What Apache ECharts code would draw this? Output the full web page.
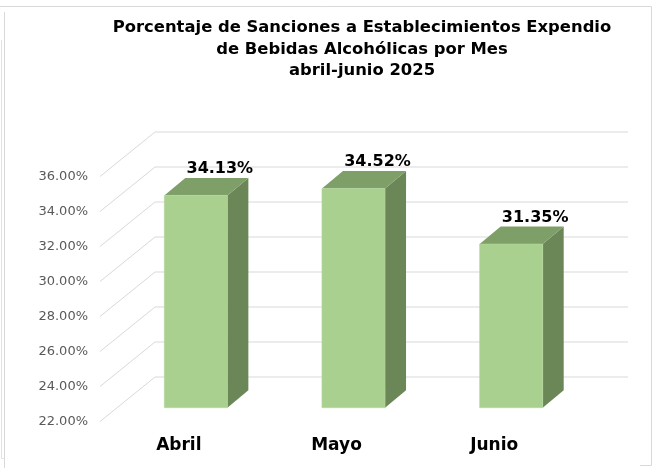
<!DOCTYPE html>
<html>
<head>
<meta charset="utf-8">
<script src="https://cdn.jsdelivr.net/npm/echarts@6/dist/echarts.min.js"></script>
<style>
  html, body { margin: 0; padding: 0; background: #fff; }
  #chart { width: 656px; height: 468px; }
</style>
</head>
<body>
<div id="chart"></div>
<script>
// data
var months = ['Abril', 'Mayo', 'Junio'];
var sanciones = [34.13, 34.52, 31.35];
var yTicks = [22, 24, 26, 28, 30, 32, 34, 36];

var chart = echarts.init(document.getElementById('chart'));

// 3d look: depth of the floor and of the bars
var floorDx = 55, floorDy = -44.5;
var barFx = 17, barFy = -13.8;   // bar front plane
var barDx = 21, barDy = -17.5;   // bar depth

var gridLineColor = '#d9d9d9';

function renderGrid(params, api) {
    var v = api.value(1);
    var y = api.coord([0, v])[1];
    var cs = params.coordSys;
    var x0 = cs.x;
    var x1 = cs.x + cs.width + floorDx;
    return {
        type: 'polyline',
        shape: { points: [[x0, y], [x0 + floorDx, y + floorDy], [x1, y + floorDy]] },
        style: { stroke: gridLineColor, lineWidth: 1, fill: null },
        silent: true
    };
}

function renderBar(params, api) {
    var i = api.value(0);
    var v = api.value(1);
    var base = api.coord([i, yTicks[0]]);
    var top = api.coord([i, v]);
    var w = api.size([1, 0])[0] * 0.4;
    var xl = base[0] - w / 2 + barFx;
    var xr = base[0] + w / 2 + barFx;
    var yb = base[1] + barFy;
    var yt = top[1] + barFy;
    return {
        type: 'group',
        children: [
            { // side
                type: 'polygon',
                shape: { points: [[xr, yt], [xr + barDx, yt + barDy], [xr + barDx, yb + barDy], [xr, yb]] },
                style: { fill: '#6b8758' }
            },
            { // top
                type: 'polygon',
                shape: { points: [[xl, yt], [xr, yt], [xr + barDx, yt + barDy], [xl + barDx, yt + barDy]] },
                style: { fill: '#7f9f69' }
            },
            { // front
                type: 'rect',
                shape: { x: xl, y: yt, width: xr - xl, height: yb - yt },
                style: { fill: '#a9d08e', stroke: '#b4d79c', lineWidth: 0.6 }
            },
            { // value label
                type: 'text',
                style: {
                    x: base[0] + barFx + 24,
                    y: yt + barDy - 9,
                    text: v.toFixed(2) + '%',
                    fill: '#000',
                    font: 'bold 16px "DejaVu Sans"',
                    align: 'center',
                    verticalAlign: 'middle'
                }
            }
        ]
    };
}

var option = {
    backgroundColor: '#fff',
    animation: false,
    graphic: [
        {
            type: 'text',
            x: 362,
            y: 17,
            style: {
                text: 'Porcentaje de Sanciones a Establecimientos Expendio\nde Bebidas Alcohólicas por Mes\nabril-junio 2025',
                fill: '#000',
                font: 'bold 16.4px "DejaVu Sans"',
                lineHeight: 21.5,
                align: 'center',
                verticalAlign: 'top'
            }
        },
        {
            type: 'polyline',
            shape: { points: [[0, 6.5], [651.5, 6.5], [651.5, 465.5], [640, 465.5]] },
            style: { stroke: '#d9d9d9', lineWidth: 1, fill: null }
        },
        {
            type: 'polyline',
            shape: { points: [[4.5, 12], [4.5, 468]] },
            style: { stroke: '#d9d9d9', lineWidth: 1, fill: null }
        },
        {
            type: 'polyline',
            shape: { points: [[1.5, 40], [1.5, 458.5], [4.5, 458.5]] },
            style: { stroke: '#e2e2e2', lineWidth: 1, fill: null }
        }
    ],
    grid: {
        left: 100,
        top: 176.5,
        width: 473,
        height: 245
    },
    xAxis: {
        type: 'category',
        data: months,
        axisLine: { show: false },
        axisTick: { show: false },
        axisLabel: {
            margin: 16,
            color: '#000',
            fontFamily: 'DejaVu Sans',
            fontWeight: 'bold',
            fontSize: 17
        }
    },
    yAxis: {
        type: 'value',
        min: yTicks[0],
        max: yTicks[yTicks.length - 1],
        interval: 2,
        axisLine: { show: false },
        axisTick: { show: false },
        splitLine: { show: false },
        axisLabel: {
            margin: 12,
            color: '#595959',
            fontFamily: 'DejaVu Sans',
            fontSize: 13,
            formatter: function (v) { return v.toFixed(2) + '%'; }
        }
    },
    series: [
        {
            type: 'custom',
            renderItem: renderGrid,
            data: yTicks.map(function (t) { return [0, t]; }),
            z: 1,
            silent: true
        },
        {
            type: 'custom',
            renderItem: renderBar,
            data: sanciones.map(function (s, i) { return [i, s]; }),
            z: 2
        }
    ]
};
chart.setOption(option);
</script>
</body>
</html>
